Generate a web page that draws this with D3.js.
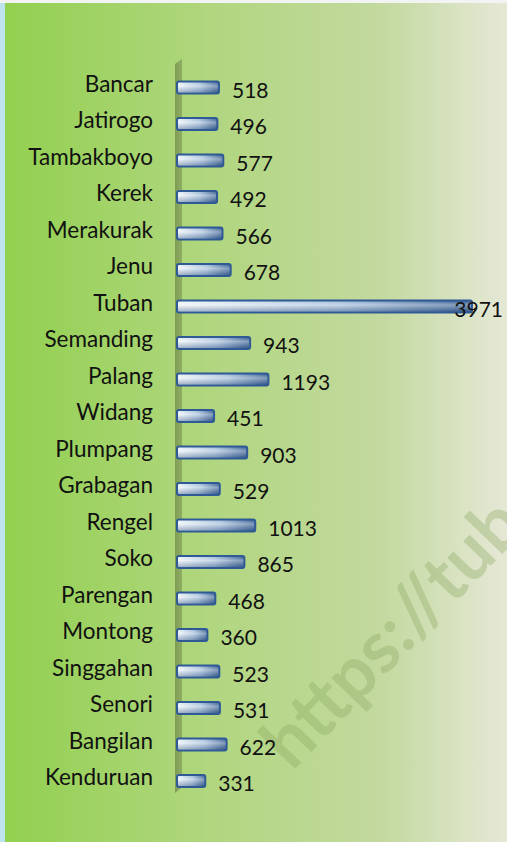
<!DOCTYPE html>
<html>
<head>
<meta charset="utf-8">
<script src="https://cdn.jsdelivr.net/npm/d3@7"></script>
<style>
  body { margin: 0; background: #bfe3ee; }
  svg { display: block; }
</style>
</head>
<body>
<svg id="chart"></svg>
<script>
// svg size
const width = 507;
const height = 842;

// data
const categories = ["Bancar", "Jatirogo", "Tambakboyo", "Kerek", "Merakurak", "Jenu", "Tuban",
    "Semanding", "Palang", "Widang", "Plumpang", "Grabagan", "Rengel", "Soko", "Parengan",
    "Montong", "Singgahan", "Senori", "Bangilan", "Kenduruan"];
const values = [518, 496, 577, 492, 566, 678, 3971, 943, 1193, 451, 903, 529, 1013, 865, 468,
    360, 523, 531, 622, 331];

const rows = categories.map((c, i) => ({ name: c, value: values[i] }));

const svg = d3.select("#chart")
    .attr("width", width)
    .attr("height", height);

const defs = svg.append("defs");

// panel background gradient
const bg = defs.append("linearGradient").attr("id", "bg").attr("x1", 0).attr("x2", 1).attr("y1", 0).attr("y2", 0);
bg.append("stop").attr("offset", "0%").attr("stop-color", "#92d050");
bg.append("stop").attr("offset", "40%").attr("stop-color", "#b0d67e");
bg.append("stop").attr("offset", "75%").attr("stop-color", "#c3d99f");
bg.append("stop").attr("offset", "100%").attr("stop-color", "#e6e8d6");

// bar gradients
const barH = defs.append("linearGradient").attr("id", "barH").attr("x1", 0).attr("x2", 1).attr("y1", 0).attr("y2", 0);
barH.append("stop").attr("offset", "0%").attr("stop-color", "#eef4f8");
barH.append("stop").attr("offset", "55%").attr("stop-color", "#a9c2dc");
barH.append("stop").attr("offset", "100%").attr("stop-color", "#3f6596");

const barV = defs.append("linearGradient").attr("id", "barV").attr("x1", 0).attr("x2", 0).attr("y1", 0).attr("y2", 1);
barV.append("stop").attr("offset", "0%").attr("stop-color", "#ffffff").attr("stop-opacity", 0);
barV.append("stop").attr("offset", "35%").attr("stop-color", "#ffffff").attr("stop-opacity", 0.35);
barV.append("stop").attr("offset", "100%").attr("stop-color", "#1f3f70").attr("stop-opacity", 0.35);

// wall gradient
const wall = defs.append("linearGradient").attr("id", "wall").attr("x1", 0).attr("x2", 1).attr("y1", 0).attr("y2", 0);
wall.append("stop").attr("offset", "0%").attr("stop-color", "#7f9c55");
wall.append("stop").attr("offset", "100%").attr("stop-color", "#8fae62");

// outer frame
svg.append("rect")
    .attr("x", 0).attr("y", 0).attr("width", width).attr("height", 3)
    .attr("fill", "#f2f4f4");
svg.append("rect")
    .attr("x", 5).attr("y", 3).attr("width", width - 5).attr("height", height - 3)
    .attr("fill", "url(#bg)");

// scales
const x = d3.scaleLinear()
    .domain([0, 3971])
    .range([181, 472]);

const y = d3.scaleBand()
    .domain(categories)
    .range([69.25, 799.25]);

const bh = 12;

// watermark
svg.append("text")
    .attr("transform", "translate(292,772) rotate(-46)")
    .attr("font-family", "Lato, 'Open Sans', sans-serif")
    .attr("font-weight", "bold")
    .attr("font-size", 72)
    .attr("fill", "#8aa860")
    .attr("opacity", 0.35)
    .text("https://tuban");

// axis wall (3d)
svg.append("path")
    .attr("d", "M175,64 L182,59 L182,787 L175,793 Z")
    .attr("fill", "url(#wall)");

// bars
const bar = svg.selectAll("g.bar")
    .data(rows)
    .enter()
    .append("g")
    .attr("class", "bar");

bar.append("rect")
    .attr("x", 177)
    .attr("y", d => y(d.name) + y.bandwidth() / 2 - bh / 2)
    .attr("width", d => x(d.value) - 177)
    .attr("height", bh)
    .attr("rx", 2)
    .attr("fill", "url(#barH)")
    .attr("stroke", "#2f5a95")
    .attr("stroke-width", 2);

bar.append("rect")
    .attr("x", 178)
    .attr("y", d => y(d.name) + y.bandwidth() / 2 - bh / 2 + 1)
    .attr("width", d => x(d.value) - 179)
    .attr("height", bh - 2)
    .attr("fill", "url(#barV)");

// category labels
svg.selectAll("text.cat")
    .data(rows)
    .enter()
    .append("text")
    .attr("class", "cat")
    .attr("x", 153)
    .attr("y", d => y(d.name) + y.bandwidth() / 2 + 4)
    .attr("text-anchor", "end")
    .attr("font-family", "Lato, sans-serif")
    .attr("font-size", 22.5)
    .attr("fill", "#111")
    .text(d => d.name);

// value labels
svg.selectAll("text.val")
    .data(rows)
    .enter()
    .append("text")
    .attr("class", "val")
    .attr("y", d => y(d.name) + y.bandwidth() / 2 + 10)
    .attr("font-family", "Lato, sans-serif")
    .attr("font-size", 21)
    .attr("fill", "#111")
    .text(d => d.value)
    .attr("x", function(d) {
        const w = this.getComputedTextLength();
        return Math.min(x(d.value) + 13, width - 4 - w);
    });
</script>
</body>
</html>
